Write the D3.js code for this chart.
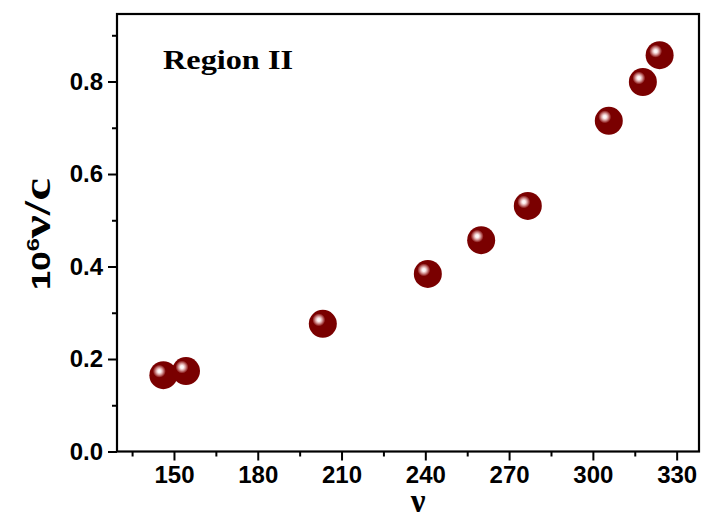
<!DOCTYPE html>
<html><head><meta charset="utf-8">
<script src="https://cdn.jsdelivr.net/npm/d3@7"></script>
<style>body{margin:0;background:#fff}svg{display:block}</style>
</head><body>
<svg id="c" width="705" height="519"></svg>
<script>
const xValues = [146.2, 154.3, 203.3, 240.9, 260.0, 276.7, 305.7, 317.9, 323.9];
const yValues = [0.165, 0.174, 0.276, 0.384, 0.457, 0.531, 0.715, 0.799, 0.857];
const xTicks = [150, 180, 210, 240, 270, 300, 330];
const xMinorTicks = [135, 165, 195, 225, 255, 285, 315];
const yTicks = [0.0, 0.2, 0.4, 0.6, 0.8];
const yMinorTicks = [0.1, 0.3, 0.5, 0.7, 0.9];

const svg = d3.select("#c");
const L = 117, R = 699, T = 14, B = 451.5;
const x = d3.scaleLinear().domain([129.6, 338]).range([L, R]);
const y = d3.scaleLinear().domain([0, 0.946]).range([B, T]);

const defs = svg.append("defs");
const g = defs.append("radialGradient").attr("id","hl")
  .attr("cx","0.5").attr("cy","0.5").attr("r","0.5");
g.append("stop").attr("offset","0").attr("stop-color","#ffffff");
g.append("stop").attr("offset","0.25").attr("stop-color","#fbeeee");
g.append("stop").attr("offset","0.5").attr("stop-color","#dca6a6");
g.append("stop").attr("offset","0.78").attr("stop-color","#a84848");
g.append("stop").attr("offset","1").attr("stop-color","#7a0000");

// minor ticks
const xAxisMinor = d3.axisBottom(x).tickValues(xMinorTicks).tickSize(5).tickFormat("");
const yAxisMinor = d3.axisLeft(y).tickValues(yMinorTicks).tickSize(5).tickFormat("");
svg.append("g").attr("transform",`translate(0,${B})`).call(xAxisMinor);
svg.append("g").attr("transform",`translate(${L},0)`).call(yAxisMinor);

const xAxis = d3.axisBottom(x).tickValues(xTicks).tickSize(9).tickPadding(5).tickFormat(d3.format("d"));
const yAxis = d3.axisLeft(y).tickValues(yTicks).tickSize(9).tickPadding(5).tickFormat(d3.format(".1f"));
const gx = svg.append("g").attr("transform",`translate(0,${B})`).call(xAxis);
const gy = svg.append("g").attr("transform",`translate(${L},0)`).call(yAxis);

svg.selectAll(".domain").remove();
svg.selectAll(".tick line").attr("stroke","#000").attr("stroke-width",2);
[gx, gy].forEach(a => a.selectAll("text")
  .attr("font-family","Liberation Sans, Arial, sans-serif")
  .attr("font-weight","bold").attr("font-size",24).attr("fill","#000"));

svg.append("rect").attr("x",L).attr("y",T).attr("width",R-L).attr("height",B-T)
  .attr("fill","none").attr("stroke","#000").attr("stroke-width",2.2);

// points
const pts = svg.append("g").selectAll("g").data(xValues).join("g")
  .attr("transform",(d,i)=>`translate(${x(d)},${y(yValues[i])})`);
pts.append("circle").attr("r",14).attr("fill","#7a0000");
pts.append("circle").attr("cx",-4).attr("cy",-4).attr("r",6.5).attr("fill","url(#hl)");

// texts
svg.append("text").attr("x",163).attr("y",69)
  .attr("font-family","Liberation Serif, Times New Roman, serif")
  .attr("font-weight","bold").attr("font-size",27)
  .attr("textLength",130).attr("lengthAdjust","spacingAndGlyphs").text("Region II");

svg.append("text").attr("x",418).attr("y",512).attr("text-anchor","middle")
  .attr("font-family","Liberation Serif, Times New Roman, serif")
  .attr("font-weight","bold").attr("font-size",33).text("ν");

const yt = svg.append("text").attr("transform","translate(50,290) rotate(-90)")
  .attr("font-family","Liberation Serif, Times New Roman, serif")
  .attr("font-weight","bold").attr("font-size",37)
  .attr("textLength",112).attr("lengthAdjust","spacingAndGlyphs");
yt.append("tspan").attr("font-family","Liberation Sans, Arial, sans-serif").attr("font-size",25).text("10");
yt.append("tspan").attr("font-family","Liberation Sans, Arial, sans-serif").attr("font-size",17).attr("dy",-11).text("6");
yt.append("tspan").attr("dy",11).text("ν/c");
</script>
</body></html>
